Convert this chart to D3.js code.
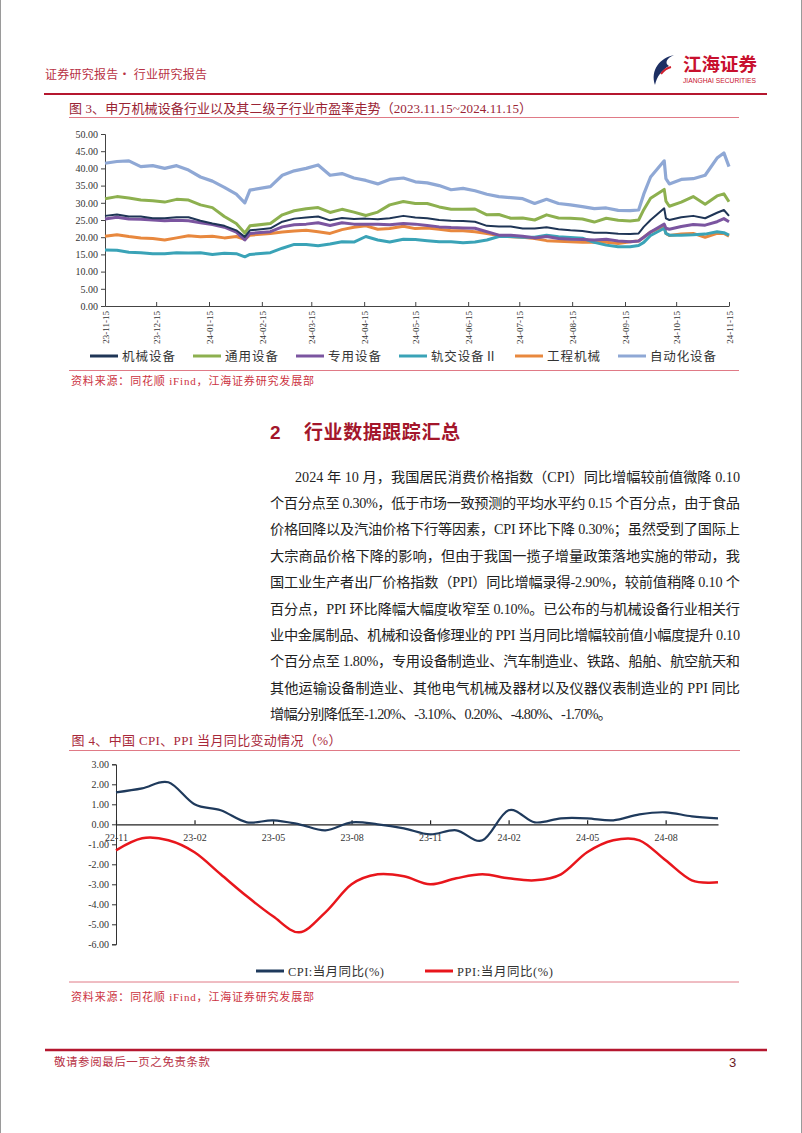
<!DOCTYPE html>
<html><head><meta charset="utf-8">
<script src="https://cdn.jsdelivr.net/npm/d3@7"></script>
<style>
html,body{margin:0;padding:0;background:#fff;}
svg{display:block;}
</style></head>
<body>
<svg id="page" width="802" height="1133"></svg>
<script>
// ---------------- Chart 1 data: P/E of SW machinery and sub-industries ----------------
const peDates = ["2023-11-15","2023-11-22","2023-11-29","2023-12-06","2023-12-13","2023-12-20","2023-12-27",
  "2024-01-03","2024-01-10","2024-01-17","2024-01-24","2024-01-31","2024-02-05","2024-02-08","2024-02-20",
  "2024-02-27","2024-03-05","2024-03-12","2024-03-19","2024-03-26","2024-04-02","2024-04-09","2024-04-16",
  "2024-04-23","2024-04-30","2024-05-08","2024-05-15","2024-05-22","2024-05-29","2024-06-05","2024-06-12",
  "2024-06-19","2024-06-26","2024-07-03","2024-07-10","2024-07-17","2024-07-24","2024-07-31","2024-08-07",
  "2024-08-14","2024-08-21","2024-08-28","2024-09-04","2024-09-11","2024-09-18","2024-09-23","2024-09-26",
  "2024-09-30","2024-10-08","2024-10-09","2024-10-11","2024-10-18","2024-10-25","2024-11-01","2024-11-08",
  "2024-11-12","2024-11-15"];
const peMachinery = [26.2,26.6,26.0,26.0,25.5,25.5,25.8,25.8,24.8,24.0,23.3,22.0,20.1,22.0,22.6,24.5,25.4,25.7,26.0,24.9,
  25.6,25.3,25.4,25.2,25.5,26.2,25.7,25.5,25.0,24.8,24.7,24.5,23.3,23.1,23.1,22.5,22.5,22.9,22.3,22.0,
  21.8,21.3,21.3,21.0,20.9,21.1,23.0,25.0,28.4,25.5,25.0,25.8,26.2,25.5,27.1,27.9,26.2];
const peGeneral = [31.2,31.8,31.4,30.8,30.6,30.2,31.0,30.8,29.4,28.6,26.0,24.0,21.2,23.3,24.0,26.5,27.7,28.3,28.6,27.2,
  28.1,27.3,26.3,27.3,29.4,30.4,29.8,29.8,28.8,28.1,28.1,28.2,26.5,26.6,25.5,25.6,25.0,26.5,25.6,25.5,
  25.3,24.4,25.5,24.9,24.7,25.0,28.0,31.3,33.9,30.5,29.0,30.2,31.8,29.6,32.0,32.6,30.3];
const peSpecial = [25.3,25.8,25.3,25.2,25.0,24.8,24.9,24.8,24.2,23.7,22.9,21.5,19.2,21.1,21.6,23.0,23.6,23.8,24.2,23.4,
  24.2,23.8,23.8,23.8,23.6,24.0,23.8,23.4,23.0,22.8,22.7,22.6,21.6,20.6,20.6,20.3,19.8,20.2,19.6,19.4,
  19.3,19.2,19.4,18.9,18.7,18.9,20.0,21.5,23.8,22.6,22.3,23.1,23.7,23.5,24.5,25.4,24.5];
const peRail = [16.3,16.2,15.6,15.5,15.2,15.2,15.5,15.4,15.5,15.0,15.3,15.2,14.3,15.0,15.5,16.8,17.9,17.9,17.5,18.0,
  18.7,18.6,20.2,19.2,18.6,19.4,19.3,19.0,18.7,18.7,18.4,18.6,19.2,20.2,20.2,20.0,20.0,20.6,20.1,19.9,
  19.7,18.5,17.7,17.2,17.2,17.6,18.5,20.5,22.6,21.1,20.6,20.6,20.7,20.9,21.6,21.3,20.6];
const peEngineering = [20.3,20.7,20.2,19.8,19.6,19.2,19.8,20.4,20.1,20.3,19.8,20.2,19.4,20.6,21.1,21.5,21.8,22.0,21.6,21.1,
  22.2,22.9,23.3,22.3,22.5,23.2,22.5,22.7,22.3,21.9,21.9,21.6,21.1,20.5,20.1,20.0,19.6,19.0,18.8,18.7,
  18.5,18.6,18.5,18.2,18.7,18.9,20.0,21.5,23.3,21.1,20.5,20.9,21.1,20.0,21.1,21.1,20.3];
const peAutomation = [41.5,42.0,42.2,40.5,40.8,40.0,40.8,39.5,37.5,36.3,34.5,32.5,30.0,33.7,34.7,38.0,39.3,40.0,41.0,38.0,
  38.5,37.2,36.5,35.5,36.8,37.2,36.1,35.8,35.0,33.8,34.2,33.5,32.5,31.8,31.5,31.2,29.8,31.0,29.8,29.4,
  28.9,28.3,28.5,27.8,27.7,27.9,32.5,37.5,42.2,37.0,35.5,36.8,37.0,38.0,43.0,44.5,40.5];
const peSeriesNames = ["机械设备","通用设备","专用设备","轨交设备Ⅱ","工程机械","自动化设备"];
const peTickDates = ["2023-11-15","2023-12-15","2024-01-15","2024-02-15","2024-03-15","2024-04-15","2024-05-15",
  "2024-06-15","2024-07-15","2024-08-15","2024-09-15","2024-10-15","2024-11-15"];
const peTickLabels = ["23-11-15","23-12-15","24-01-15","24-02-15","24-03-15","24-04-15","24-05-15",
  "24-06-15","24-07-15","24-08-15","24-09-15","24-10-15","24-11-15"];
const peYTicks = [0,5,10,15,20,25,30,35,40,45,50];

// ---------------- Chart 2 data: CPI / PPI YoY ----------------
const months = ["22-11","22-12","23-01","23-02","23-03","23-04","23-05","23-06","23-07","23-08","23-09","23-10",
  "23-11","23-12","24-01","24-02","24-03","24-04","24-05","24-06","24-07","24-08","24-09","24-10"];
const cpiYoY = [1.6,1.8,2.1,1.0,0.7,0.1,0.2,0.0,-0.3,0.1,0.0,-0.2,-0.5,-0.3,-0.8,0.7,0.1,0.3,0.3,0.2,0.5,0.6,0.4,0.3];
const ppiYoY = [-1.3,-0.7,-0.8,-1.4,-2.5,-3.6,-4.6,-5.4,-4.4,-3.0,-2.5,-2.6,-3.0,-2.7,-2.5,-2.7,-2.8,-2.5,-1.4,-0.8,-0.8,-1.8,-2.8,-2.9];
const cpiTickMonths = ["22-11","23-02","23-05","23-08","23-11","24-02","24-05","24-08"];
const cpiYTicks = [3,2,1,0,-1,-2,-3,-4,-5,-6];
const cpiSeriesNames = ["CPI:当月同比(%)","PPI:当月同比(%)"];

// ---------------- Text ----------------
const paragraphLines = [
  "2024 年 10 月，我国居民消费价格指数（CPI）同比增幅较前值微降 0.10",
  "个百分点至 0.30%，低于市场一致预测的平均水平约 0.15 个百分点，由于食品",
  "价格回降以及汽油价格下行等因素，CPI 环比下降 0.30%；虽然受到了国际上",
  "大宗商品价格下降的影响，但由于我国一揽子增量政策落地实施的带动，我",
  "国工业生产者出厂价格指数（PPI）同比增幅录得-2.90%，较前值稍降 0.10 个",
  "百分点，PPI 环比降幅大幅度收窄至 0.10%。已公布的与机械设备行业相关行",
  "业中金属制品、机械和设备修理业的 PPI 当月同比增幅较前值小幅度提升 0.10",
  "个百分点至 1.80%，专用设备制造业、汽车制造业、铁路、船舶、航空航天和",
  "其他运输设备制造业、其他电气机械及器材以及仪器仪表制造业的 PPI 同比",
  "增幅分别降低至-1.20%、-3.10%、0.20%、-4.80%、-1.70%。"
];

// ---------------- Drawing ----------------
const SERIF = "'Liberation Serif','Noto Sans CJK SC',serif";
const CJK = "'Noto Sans CJK SC',sans-serif";
const RED = "#c0283a";
const svg = d3.select("#page");

// page side borders
svg.append("line").attr("x1",0.5).attr("x2",0.5).attr("y1",0).attr("y2",1133).attr("stroke","#9a9a9a");
svg.append("line").attr("x1",801.5).attr("x2",801.5).attr("y1",0).attr("y2",1133).attr("stroke","#9a9a9a");

// header
svg.append("text").attr("x",45).attr("y",79).attr("font-family",CJK).attr("font-size",12)
  .attr("fill","#b83245").attr("textLength",162).attr("lengthAdjust","spacing").text("证券研究报告·  行业研究报告");
// logo
const logo = svg.append("g");
logo.append("path").attr("d","M674,55 C660,58 650,70 655,85 C657,76 662,70 669,66 C664,63 667,58 674,55 Z").attr("fill","#1d2f63");
logo.append("path").attr("d","M661,74 C664,70 667,68 671,67").attr("stroke","#d0202e").attr("stroke-width",2).attr("fill","none");
logo.append("text").attr("x",683).attr("y",71).attr("font-family",CJK).attr("font-weight","bold").attr("font-size",18.5)
  .attr("fill","#c8102e").attr("textLength",74).attr("lengthAdjust","spacingAndGlyphs").text("江海证券");
logo.append("text").attr("x",683).attr("y",83).attr("font-family","'Liberation Sans',Arial,sans-serif").attr("font-size",7.2)
  .attr("fill","#c8102e").attr("textLength",73).attr("lengthAdjust","spacingAndGlyphs").text("JIANGHAI SECURITIES");
svg.append("line").attr("x1",44).attr("x2",767).attr("y1",94).attr("y2",94).attr("stroke","#b5172f").attr("stroke-width",2);

// figure 3 title
svg.append("text").attr("x",69).attr("y",112.5).attr("font-family",SERIF).attr("font-size",13).attr("fill","#9a2435")
  .attr("textLength",463).attr("lengthAdjust","spacing").text("图 3、申万机械设备行业以及其二级子行业市盈率走势（2023.11.15~2024.11.15）");
svg.append("line").attr("x1",69).attr("x2",739).attr("y1",117.5).attr("y2",117.5).attr("stroke","#e07a86").attr("stroke-width",1);

// ---- Chart 1 ----
const parse = d3.timeParse("%Y-%m-%d");
const x1 = d3.scaleTime().domain([parse("2023-11-15"), parse("2024-11-15")]).range([105, 729]);
const y1 = d3.scaleLinear().domain([0, 50]).range([306, 134]);
const c1 = svg.append("g");
const yAx1 = c1.append("g").attr("transform","translate(105,0)")
  .call(d3.axisLeft(y1).tickValues(peYTicks).tickSize(4).tickFormat(d => d.toFixed(2)));
yAx1.selectAll("text").attr("font-family",SERIF).attr("font-size",10).attr("fill","#333");
yAx1.selectAll("line,path").attr("stroke","#444");
const xAx1 = c1.append("g").attr("transform","translate(0,306)")
  .call(d3.axisBottom(x1).tickValues(peTickDates.map(parse)).tickSize(-4).tickSizeOuter(0)
    .tickFormat((d,i) => peTickLabels[i]));
xAx1.selectAll("line,path").attr("stroke","#444");
xAx1.selectAll("text").attr("font-family",SERIF).attr("font-size",9).attr("fill","#333")
  .attr("text-anchor","end").attr("y",0).attr("dy","0.35em")
  .attr("transform","translate(0,5) rotate(-90)");

const peSeries = [
  {name: peSeriesNames[0], values: peMachinery, color: "#1f3556", width: 2},
  {name: peSeriesNames[1], values: peGeneral, color: "#8db04f", width: 3},
  {name: peSeriesNames[2], values: peSpecial, color: "#7b55a0", width: 3},
  {name: peSeriesNames[3], values: peRail, color: "#3aa3b7", width: 3},
  {name: peSeriesNames[4], values: peEngineering, color: "#e8883e", width: 3},
  {name: peSeriesNames[5], values: peAutomation, color: "#8fa8d5", width: 3.2}
];
const drawOrder = [5,1,4,3,2,0];
const line1 = d3.line().x((d,i) => x1(parse(peDates[i]))).y(d => y1(d));
drawOrder.forEach(k => {
  const s = peSeries[k];
  c1.append("path").datum(s.values).attr("d", line1).attr("fill","none")
    .attr("stroke", s.color).attr("stroke-width", s.width).attr("stroke-linejoin","round");
});
// legend 1
let lx = 90;
const leg1 = svg.append("g");
peSeries.forEach(s => {
  leg1.append("line").attr("x1",lx).attr("x2",lx+28).attr("y1",356).attr("y2",356).attr("stroke",s.color).attr("stroke-width",3);
  const w = s.name.length > 4 ? 66 : 53;
  leg1.append("text").attr("x",lx+32).attr("y",360.5).attr("font-family",SERIF).attr("font-size",12.5).attr("fill","#333")
    .attr("textLength",w).attr("lengthAdjust","spacing").text(s.name);
  lx += 32 + w + 18;
});
svg.append("line").attr("x1",69).attr("x2",739).attr("y1",370.5).attr("y2",370.5).attr("stroke","#e07a86").attr("stroke-width",1);
svg.append("text").attr("x",71).attr("y",385).attr("font-family",SERIF).attr("font-size",11).attr("fill","#cc3341")
  .attr("textLength",243).attr("lengthAdjust","spacing").text("资料来源：同花顺 iFind，江海证券研究发展部");

// section heading
svg.append("text").attr("x",270).attr("y",438.5).attr("font-family","'Liberation Sans',Arial,sans-serif").attr("font-weight","bold")
  .attr("font-size",19).attr("fill","#a3162b").text("2");
svg.append("text").attr("x",304).attr("y",438.5).attr("font-family",CJK).attr("font-weight","bold")
  .attr("font-size",19).attr("fill","#a3162b").attr("textLength",156).attr("lengthAdjust","spacing").text("行业数据跟踪汇总");

// paragraph
paragraphLines.forEach((t,i) => {
  const first = i === 0, last = i === paragraphLines.length - 1;
  const x0 = first ? 295 : 270;
  const w = first ? 445 : (last ? 342 : 470);
  svg.append("text").attr("x",x0).attr("y",481.5 + i*26.4).attr("font-family",SERIF).attr("font-size",14.2)
    .attr("fill","#222").attr("textLength",w).attr("lengthAdjust","spacing").text(t);
});

// figure 4 title
svg.append("text").attr("x",71.5).attr("y",744.5).attr("font-family",SERIF).attr("font-size",13).attr("fill","#a8283a")
  .attr("textLength",270).attr("lengthAdjust","spacing").text("图 4、中国 CPI、PPI 当月同比变动情况（%）");
svg.append("line").attr("x1",69).attr("x2",740).attr("y1",750.5).attr("y2",750.5).attr("stroke","#e07a86").attr("stroke-width",1);

// ---- Chart 2 ----
const x2 = d3.scalePoint().domain(months).range([116, 718]);
const y2 = d3.scaleLinear().domain([-6, 3]).range([944.3, 764.3]);
const c2 = svg.append("g");
const yAx2 = c2.append("g").attr("transform","translate(116,0)")
  .call(d3.axisLeft(y2).tickValues(cpiYTicks).tickSize(4).tickFormat(d => d.toFixed(2)));
yAx2.selectAll("text").attr("font-family",SERIF).attr("font-size",10).attr("fill","#333");
yAx2.selectAll("line,path").attr("stroke","#333");
const xAx2 = c2.append("g").attr("transform","translate(0," + y2(0) + ")")
  .call(d3.axisBottom(x2).tickValues(cpiTickMonths).tickSize(-4).tickSizeOuter(0).tickPadding(4));
xAx2.selectAll("line,path").attr("stroke","#222").attr("stroke-width",1.2);
xAx2.selectAll("text").attr("font-family",SERIF).attr("font-size",10).attr("fill","#333").attr("y",10);

const line2 = d3.line().x((d,i) => x2(months[i])).y(d => y2(d)).curve(d3.curveCatmullRom.alpha(0));
c2.append("path").datum(cpiYoY).attr("d", line2).attr("fill","none").attr("stroke","#1f3a5c").attr("stroke-width",2.2);
c2.append("path").datum(ppiYoY).attr("d", line2).attr("fill","none").attr("stroke","#e8161c").attr("stroke-width",2.5);

// legend 2
const leg2 = [{x:256, color:"#1f3a5c", name:cpiSeriesNames[0]}, {x:425, color:"#e8161c", name:cpiSeriesNames[1]}];
leg2.forEach(d => {
  svg.append("line").attr("x1",d.x).attr("x2",d.x+28).attr("y1",971).attr("y2",971).attr("stroke",d.color).attr("stroke-width",3);
  svg.append("text").attr("x",d.x+32).attr("y",975.5).attr("font-family",SERIF).attr("font-size",12.5).attr("fill","#333")
    .attr("textLength",96).attr("lengthAdjust","spacing").text(d.name);
});
svg.append("line").attr("x1",69).attr("x2",739).attr("y1",982).attr("y2",982).attr("stroke","#e07a86").attr("stroke-width",1);
svg.append("text").attr("x",71).attr("y",1001).attr("font-family",SERIF).attr("font-size",11).attr("fill","#cc3341")
  .attr("textLength",243).attr("lengthAdjust","spacing").text("资料来源：同花顺 iFind，江海证券研究发展部");

// footer
svg.append("line").attr("x1",45).attr("x2",767).attr("y1",1050).attr("y2",1050).attr("stroke","#b5172f").attr("stroke-width",2.5);
svg.append("text").attr("x",54).attr("y",1066).attr("font-family",CJK).attr("font-size",11.5).attr("fill","#b83245")
  .attr("textLength",156).attr("lengthAdjust","spacing").text("敬请参阅最后一页之免责条款");
svg.append("text").attr("x",729).attr("y",1067).attr("font-family","'Liberation Sans',Arial,sans-serif").attr("font-size",13)
  .attr("fill","#6b1a25").text("3");
</script>
</body></html>
